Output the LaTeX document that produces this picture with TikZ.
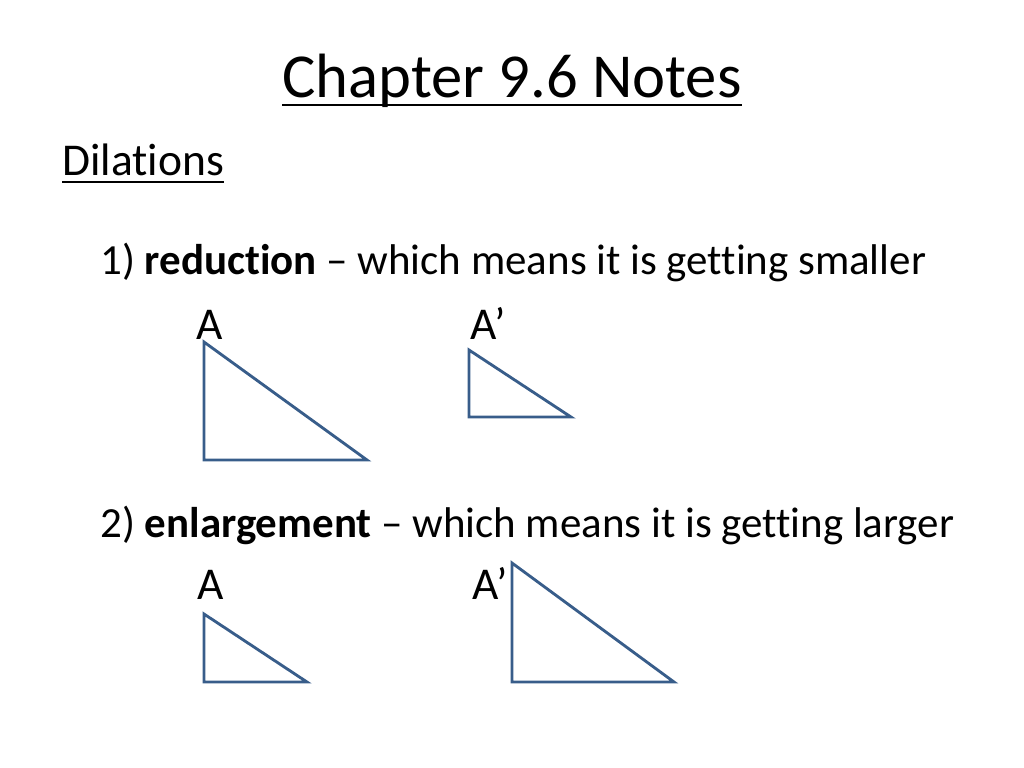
\documentclass[tikz,border=0pt]{standalone}
\usepackage{fontspec}
\setmainfont[Ligatures={TeX,NoCommon}]{Carlito}
\usetikzlibrary{calc, positioning}
\definecolor{triblue}{HTML}{385D8A}
\tikzset{txt/.style = {anchor=base west, inner sep=0pt, font=\fontsize{32}{38}\selectfont}}
\tikzset{item/.style = {txt, font=\fontsize{30.2}{36}\selectfont}}
\tikzset{tri/.style = {draw=triblue, line width=2pt, line join=miter}}
\tikzset{uline/.style = {line width=1.5pt}}

\begin{document}
\begin{tikzpicture}[x=0.703125pt, y=-0.703125pt]
  \useasboundingbox (0,0) rectangle (1024,768);
  \node[anchor=base, inner sep=0pt, font=\fontsize{44}{52}\selectfont] (title) at (512,98) {Chapter 9.6 Notes};
  \node[txt] (dil) at (62,176) {Dilations};
  \draw[uline] ($(title.base west)+(0,7)$) -- ($(title.base east)+(0,7)$);
  \draw[uline] ($(dil.base west)+(0,6)$) -- ($(dil.base east)+(0,6)$);

  \node[item] (red) at (100,275) {1) \textbf{reduction} -- which means it is getting smaller};
  \node[txt] (redA) at (196,340) {A};
  \node[txt] (redB) at (470,340) {A'};
  \node[item] (enl) at (100,537) {2) \textbf{enlargement} -- which means it is getting larger};
  \node[txt] (enlA) at (197,599) {A};
  \node[txt] (enlB) at (472,599) {A'};

  \foreach \n/\xl/\yt/\xr/\yb in
  {redT/204/342/367/460, redS/469/350/571/417,
   enlS/204/614/307/682, enlT/512/563/674/682}
  {
    \coordinate (\n-top) at (\xl,\yt);
    \coordinate (\n-bl) at (\xl,\yb);
    \coordinate (\n-br) at (\xr,\yb);
    \draw[tri] (\n-top) -- (\n-bl) -- (\n-br) -- cycle;
  }
\end{tikzpicture}
\end{document}
